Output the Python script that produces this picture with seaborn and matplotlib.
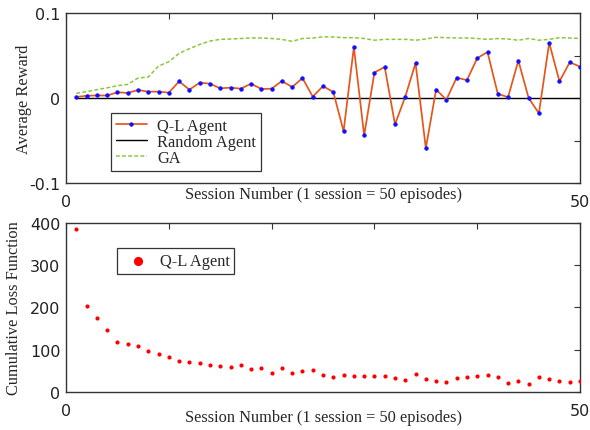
import matplotlib
matplotlib.use("Agg")
import matplotlib.pyplot as plt
import seaborn as sns
import pandas as pd
from matplotlib.ticker import MultipleLocator, FixedLocator

sessions = list(range(1, 51))

ql_reward = [0.0012, 0.0027, 0.0030, 0.0030, 0.0067, 0.0060, 0.0094, 0.0075, 0.0075, 0.0063,
             0.0196, 0.0098, 0.0180, 0.0169, 0.0114, 0.0122, 0.0110, 0.0169, 0.0106, 0.0110,
             0.0200, 0.0129, 0.0235, 0.0016, 0.0140, 0.0070, -0.0390, 0.0600, -0.0440, 0.0300,
             0.0365, -0.0310, 0.0016, 0.0410, -0.0590, 0.0100, -0.0020, 0.0240, 0.0210, 0.0470,
             0.0540, 0.0050, 0.0010, 0.0440, 0.0000, -0.0180, 0.0650, 0.0196, 0.0420, 0.0370]

random_reward = [0.0, 0.0, 0.0, 0.0, 0.0, 0.0, 0.0, 0.0, 0.0, 0.0,
                 0.0, 0.0, 0.0, 0.0, 0.0, 0.0, 0.0, 0.0, 0.0, 0.0,
                 0.0, 0.0, 0.0, 0.0, 0.0, 0.0, 0.0, 0.0, 0.0, 0.0,
                 0.0, 0.0, 0.0, 0.0, 0.0, 0.0, 0.0, 0.0, 0.0, 0.0,
                 0.0, 0.0, 0.0, 0.0, 0.0, 0.0, 0.0, 0.0, 0.0, 0.0]

ga_reward = [0.0055, 0.0075, 0.0098, 0.0120, 0.0145, 0.0160, 0.0235, 0.0247, 0.0376, 0.0427,
             0.0525, 0.0580, 0.0630, 0.0670, 0.0690, 0.0694, 0.0700, 0.0706, 0.0706, 0.0700,
             0.0690, 0.0667, 0.0700, 0.0706, 0.0720, 0.0718, 0.0710, 0.0710, 0.0700, 0.0680,
             0.0690, 0.0690, 0.0690, 0.0680, 0.0694, 0.0714, 0.0710, 0.0706, 0.0706, 0.0700,
             0.0690, 0.0700, 0.0694, 0.0680, 0.0700, 0.0680, 0.0690, 0.0710, 0.0706, 0.0700]

ql_loss = [387, 204, 174, 147, 118, 113, 107.5, 96.4, 89, 81.4,
           73.5, 71, 68.8, 64, 60, 57.7, 64, 54.5, 57, 44.3,
           56, 45, 48, 50.6, 40.3, 34.8, 39.5, 36.4, 36.4, 38,
           38, 32.4, 27.7, 42.7, 30, 26, 23, 31.6, 34.8, 37,
           39.5, 35.6, 20.6, 25.3, 17.4, 35.6, 30, 24.5, 23, 24.5]

df = pd.DataFrame({"session": sessions, "ql": ql_reward, "rand": random_reward,
                   "ga": ga_reward, "loss": ql_loss})

sns.set_style("white")
serif = ["Liberation Serif", "DejaVu Serif"]
plt.rcParams["font.family"] = ["DejaVu Sans"]
FS = 11.8

fig = plt.figure(figsize=(5.9, 4.31), dpi=100)
ax1 = fig.add_axes([0.1119, 0.573, 0.8712, 0.3945])
ax2 = fig.add_axes([0.1119, 0.0889, 0.8712, 0.3913])

# top panel
sns.lineplot(data=df, x="session", y="ga", ax=ax1, color="#8CC63E", linewidth=1.1,
             linestyle=(0, (2.5, 1.5)), label="GA", zorder=2)
sns.lineplot(data=df, x="session", y="rand", ax=ax1, color="black", linewidth=1.0,
             label="Random Agent", zorder=3)
sns.lineplot(data=df, x="session", y="ql", ax=ax1, color="#E5561C", linewidth=1.25,
             marker="o", markersize=2.4, markerfacecolor="#1010FF", markeredgecolor="#1010FF",
             label="Q-L Agent", zorder=4)

ax1.set_xlim(0, 50)
ax1.set_ylim(-0.1, 0.1)
ax1.xaxis.set_major_locator(FixedLocator([0, 50]))
ax1.xaxis.set_minor_locator(FixedLocator([10, 20, 30, 40]))
ax1.yaxis.set_major_locator(FixedLocator([-0.1, 0, 0.1]))
ax1.yaxis.set_minor_locator(FixedLocator([-0.05, 0.05]))
ax1.set_xticklabels(["0", "50"])
ax1.set_yticklabels(["-0.1", "0", "0.1"])
ax1.set_xlabel("Session Number (1 session = 50 episodes)", family=serif, fontsize=FS)
ax1.set_ylabel("Average Reward", family=serif, fontsize=FS)
ax1.xaxis.set_label_coords(0.5, -0.02)
ax1.yaxis.set_label_coords(-0.066, 0.5)

handles, labels = ax1.get_legend_handles_labels()
order = [labels.index("Q-L Agent"), labels.index("Random Agent"), labels.index("GA")]
leg1 = ax1.legend([handles[i] for i in order], [labels[i] for i in order],
                  loc="lower left", bbox_to_anchor=(0.0875, 0.07), frameon=True,
                  fancybox=False, prop={"family": serif, "size": FS}, borderpad=0.3,
                  labelspacing=0.02, handlelength=1.9, handletextpad=0.6, borderaxespad=0)
leg1.get_frame().set_edgecolor("black")
leg1.get_frame().set_linewidth(0.9)

# bottom panel
sns.scatterplot(data=df, x="session", y="loss", ax=ax2, color="#FF0000", s=9,
                linewidth=0, label="Q-L Agent", zorder=3)
ax2.set_xlim(0, 50)
ax2.set_ylim(0, 400)
ax2.xaxis.set_major_locator(FixedLocator([0, 50]))
ax2.xaxis.set_minor_locator(FixedLocator([10, 20, 30, 40]))
ax2.yaxis.set_major_locator(MultipleLocator(100))
ax2.set_xticklabels(["0", "50"])
ax2.set_xlabel("Session Number (1 session = 50 episodes)", family=serif, fontsize=FS)
ax2.set_ylabel("Cumulative Loss Function", family=serif, fontsize=FS)
ax2.xaxis.set_label_coords(0.5, -0.1)
ax2.yaxis.set_label_coords(-0.086, 0.5)
leg2 = ax2.legend(loc="lower left", bbox_to_anchor=(0.099, 0.698), frameon=True,
                  fancybox=False, prop={"family": serif, "size": FS}, borderpad=0.3,
                  handletextpad=0.3, borderaxespad=0, markerscale=2.2)
leg2.get_frame().set_edgecolor("black")
leg2.get_frame().set_linewidth(0.9)

for ax in (ax1, ax2):
    for sp in ax.spines.values():
        sp.set_color("#333333")
        sp.set_linewidth(1.0)
    ax.tick_params(which="both", direction="in", top=True, right=True,
                   color="#333333", width=0.8)
    ax.tick_params(which="major", length=4, labelsize=11.5, labelcolor="#222222")
    ax.tick_params(which="minor", length=4)
    ax.tick_params(axis="x", which="major", pad=8)
    ax.tick_params(axis="y", which="major", pad=4)

fig.savefig("out.png", dpi=100)
